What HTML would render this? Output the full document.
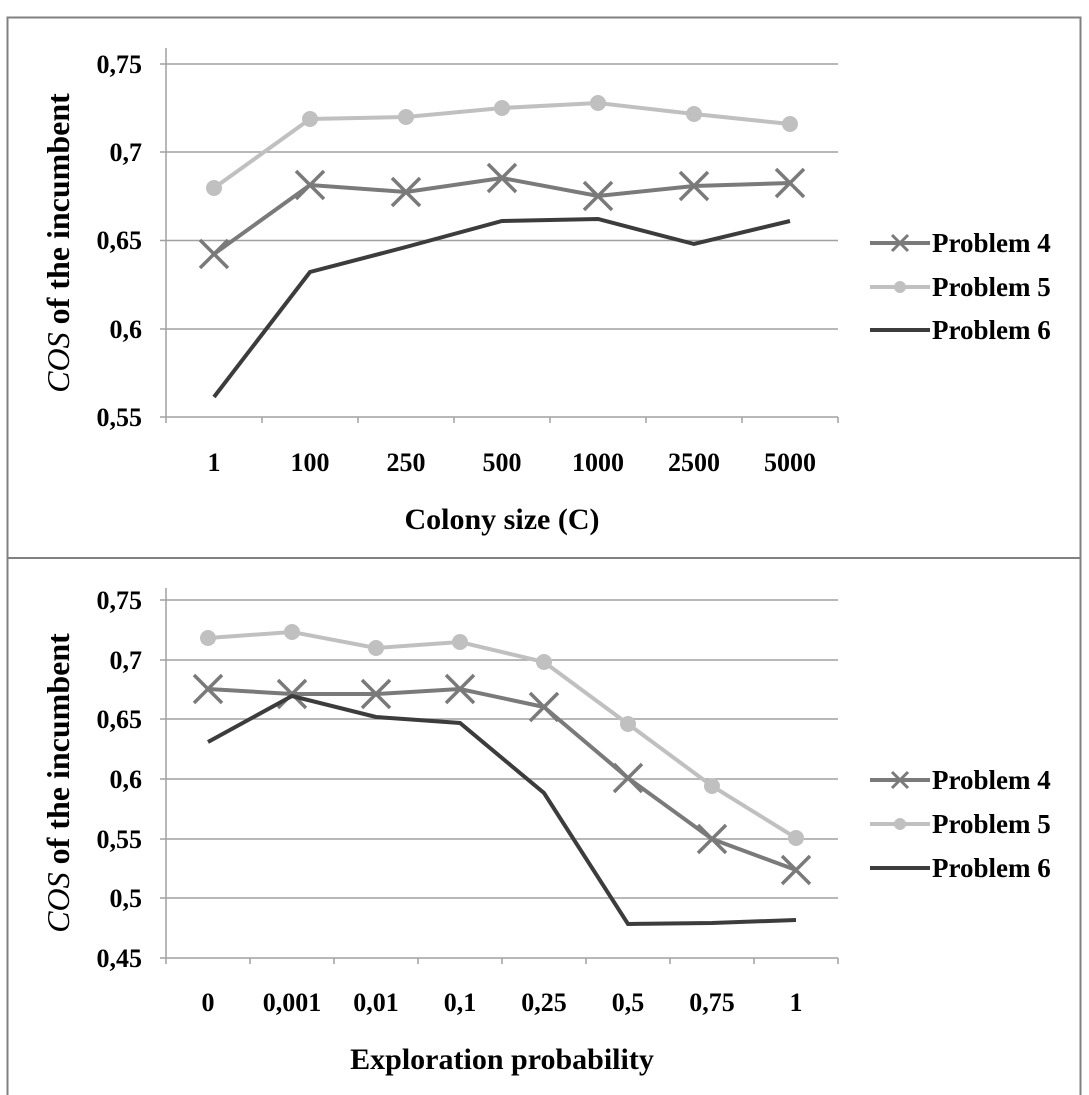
<!DOCTYPE html>
<html><head><style>body{margin:0;background:#fff}svg{display:block}</style></head><body>
<svg width="1089" height="1095" viewBox="0 0 1089 1095" xmlns="http://www.w3.org/2000/svg" font-family="Liberation Serif, serif" font-weight="bold">
<rect x="7.5" y="17.5" width="1073" height="1090" fill="#fff" stroke="#808080" stroke-width="2"/>
<line x1="7" y1="558" x2="1081" y2="558" stroke="#808080" stroke-width="2"/>
<!-- TOP -->
<g stroke="#a0a0a0" stroke-width="1.5">
<line x1="160" y1="64" x2="838" y2="64"/><line x1="160" y1="152" x2="838" y2="152"/><line x1="160" y1="240.5" x2="838" y2="240.5"/><line x1="160" y1="329" x2="838" y2="329"/><line x1="160" y1="417" x2="838" y2="417"/>
<line x1="166" y1="48" x2="166" y2="423"/>
<line x1="262" y1="417" x2="262" y2="423"/><line x1="358" y1="417" x2="358" y2="423"/><line x1="454" y1="417" x2="454" y2="423"/><line x1="550" y1="417" x2="550" y2="423"/><line x1="646" y1="417" x2="646" y2="423"/><line x1="742" y1="417" x2="742" y2="423"/><line x1="838" y1="417" x2="838" y2="423"/>
</g>
<g font-size="26" text-anchor="end">
<text x="142" y="73">0,75</text><text x="142" y="161">0,7</text><text x="142" y="249">0,65</text><text x="142" y="338">0,6</text><text x="142" y="426">0,55</text>
</g>
<g font-size="26" text-anchor="middle">
<text x="214" y="471">1</text><text x="310" y="471">100</text><text x="406" y="471">250</text><text x="502" y="471">500</text><text x="598" y="471">1000</text><text x="694" y="471">2500</text><text x="790" y="471">5000</text>
<text x="502" y="529" font-size="30">Colony size (C)</text>
<text transform="translate(69,243) rotate(-90)" font-size="32"><tspan font-style="italic" font-weight="normal">COS</tspan> of the incumbent</text>
</g>
<polyline fill="none" stroke="#c0c0c0" stroke-width="4" points="214,188 310,119 406,117 502,108 598,103 694,114 790,124"/>
<g fill="#c0c0c0"><circle cx="214" cy="188" r="8"/><circle cx="310" cy="119" r="8"/><circle cx="406" cy="117" r="8"/><circle cx="502" cy="108" r="8"/><circle cx="598" cy="103" r="8"/><circle cx="694" cy="114" r="8"/><circle cx="790" cy="124" r="8"/></g>
<polyline fill="none" stroke="#7a7a7a" stroke-width="4" points="214,254 310,185 406,192 502,178 598,196 694,186 790,183"/>
<g stroke="#7a7a7a" stroke-width="3.5">
<path d="M200,240l28,28M228,240l-28,28"/><path d="M296,171l28,28M324,171l-28,28"/><path d="M392,178l28,28M420,178l-28,28"/><path d="M488,164l28,28M516,164l-28,28"/><path d="M584,182l28,28M612,182l-28,28"/><path d="M680,172l28,28M708,172l-28,28"/><path d="M776,169l28,28M804,169l-28,28"/>
</g>
<polyline fill="none" stroke="#3c3c3c" stroke-width="4" points="214,397 310,272 406,247 502,221 598,219 694,244 790,221"/>
<line x1="870" y1="243" x2="930" y2="243" stroke="#7a7a7a" stroke-width="4"/><path d="M892,235l16,16M908,235l-16,16" stroke="#7a7a7a" stroke-width="3"/>
<line x1="870" y1="287" x2="930" y2="287" stroke="#c0c0c0" stroke-width="4"/><circle cx="900" cy="287" r="6" fill="#c0c0c0"/>
<line x1="870" y1="330" x2="930" y2="330" stroke="#3c3c3c" stroke-width="4"/>
<g font-size="27"><text x="932" y="252">Problem 4</text><text x="932" y="296">Problem 5</text><text x="932" y="339">Problem 6</text></g>
<!-- BOTTOM -->
<g stroke="#a0a0a0" stroke-width="1.5">
<line x1="160" y1="600" x2="838" y2="600"/><line x1="160" y1="660" x2="838" y2="660"/><line x1="160" y1="719" x2="838" y2="719"/><line x1="160" y1="779" x2="838" y2="779"/><line x1="160" y1="839" x2="838" y2="839"/><line x1="160" y1="898" x2="838" y2="898"/><line x1="160" y1="958" x2="838" y2="958"/>
<line x1="166" y1="588" x2="166" y2="964"/>
<line x1="250" y1="958" x2="250" y2="964"/><line x1="334" y1="958" x2="334" y2="964"/><line x1="418" y1="958" x2="418" y2="964"/><line x1="502" y1="958" x2="502" y2="964"/><line x1="586" y1="958" x2="586" y2="964"/><line x1="670" y1="958" x2="670" y2="964"/><line x1="754" y1="958" x2="754" y2="964"/><line x1="838" y1="958" x2="838" y2="964"/>
</g>
<g font-size="26" text-anchor="end">
<text x="142" y="609">0,75</text><text x="142" y="669">0,7</text><text x="142" y="728">0,65</text><text x="142" y="788">0,6</text><text x="142" y="848">0,55</text><text x="142" y="907">0,5</text><text x="142" y="967">0,45</text>
</g>
<g font-size="26" text-anchor="middle">
<text x="208" y="1011">0</text><text x="292" y="1011">0,001</text><text x="376" y="1011">0,01</text><text x="460" y="1011">0,1</text><text x="544" y="1011">0,25</text><text x="628" y="1011">0,5</text><text x="712" y="1011">0,75</text><text x="796" y="1011">1</text>
<text x="502" y="1069" font-size="30">Exploration probability</text>
<text transform="translate(69,783) rotate(-90)" font-size="32"><tspan font-style="italic" font-weight="normal">COS</tspan> of the incumbent</text>
</g>
<polyline fill="none" stroke="#c0c0c0" stroke-width="4" points="208,638 292,632 376,648 460,642 544,662 628,724 712,786 796,838"/>
<g fill="#c0c0c0"><circle cx="208" cy="638" r="8"/><circle cx="292" cy="632" r="8"/><circle cx="376" cy="648" r="8"/><circle cx="460" cy="642" r="8"/><circle cx="544" cy="662" r="8"/><circle cx="628" cy="724" r="8"/><circle cx="712" cy="786" r="8"/><circle cx="796" cy="838" r="8"/></g>
<polyline fill="none" stroke="#7a7a7a" stroke-width="4" points="208,689 292,694 376,694 460,689 544,707 628,778 712,839 796,870"/>
<g stroke="#7a7a7a" stroke-width="3.5">
<path d="M194,675l28,28M222,675l-28,28"/><path d="M278,680l28,28M306,680l-28,28"/><path d="M362,680l28,28M390,680l-28,28"/><path d="M446,675l28,28M474,675l-28,28"/><path d="M530,693l28,28M558,693l-28,28"/><path d="M614,764l28,28M642,764l-28,28"/><path d="M698,825l28,28M726,825l-28,28"/><path d="M782,856l28,28M810,856l-28,28"/>
</g>
<polyline fill="none" stroke="#3c3c3c" stroke-width="4" points="208,742 292,696 376,717 460,723 544,793 628,924 712,923 796,920"/>
<line x1="870" y1="780" x2="930" y2="780" stroke="#7a7a7a" stroke-width="4"/><path d="M892,772l16,16M908,772l-16,16" stroke="#7a7a7a" stroke-width="3"/>
<line x1="870" y1="824" x2="930" y2="824" stroke="#c0c0c0" stroke-width="4"/><circle cx="900" cy="824" r="6" fill="#c0c0c0"/>
<line x1="870" y1="868" x2="930" y2="868" stroke="#3c3c3c" stroke-width="4"/>
<g font-size="27"><text x="932" y="789">Problem 4</text><text x="932" y="833">Problem 5</text><text x="932" y="877">Problem 6</text></g>
</svg>
</body></html>
